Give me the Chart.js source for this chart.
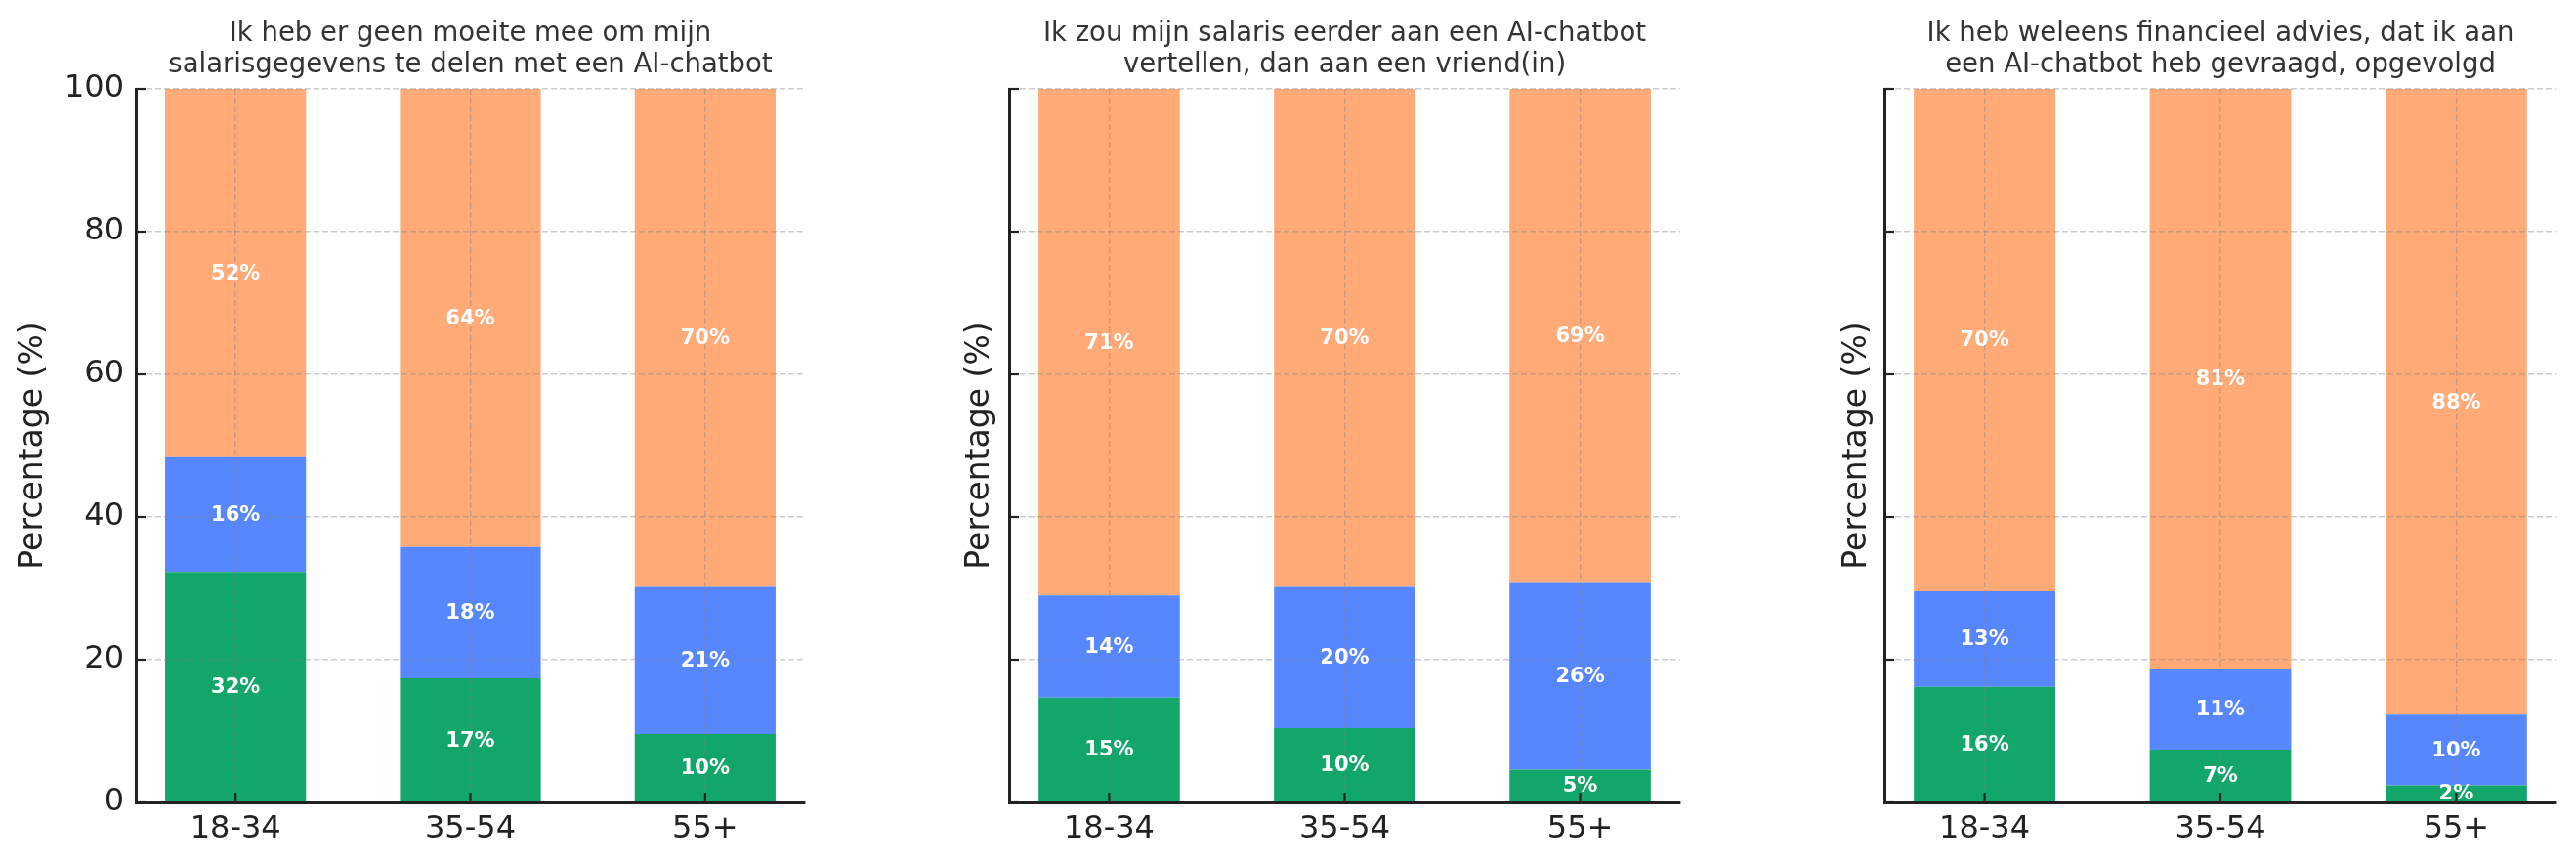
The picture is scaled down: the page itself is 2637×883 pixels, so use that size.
<!DOCTYPE html>
<html>
<head>
<meta charset="utf-8">
<script src="https://cdn.jsdelivr.net/npm/chart.js@4"></script>
<style>
  body { margin: 0; background: #fff; }
  canvas { position: absolute; top: 0; }
</style>
</head>
<body>
<canvas id="chart1" width="830" height="883" style="left:0px"></canvas>
<canvas id="chart2" width="753" height="883" style="left:973px"></canvas>
<canvas id="chart3" width="754" height="883" style="left:1869px"></canvas>
<script>
const ageGroups = ['18-34', '35-54', '55+'];
const yTicks = [0, 20, 40, 60, 80, 100];

const title1 = ['Ik heb er geen moeite mee om mijn', 'salarisgegevens te delen met een AI-chatbot'];
const eens1 = [32.3, 17.4, 9.6];
const neutraal1 = [16.1, 18.4, 20.6];
const oneens1 = [51.6, 64.2, 69.8];

const title2 = ['Ik zou mijn salaris eerder aan een AI-chatbot', 'vertellen, dan aan een vriend(in)'];
const eens2 = [14.7, 10.4, 4.6];
const neutraal2 = [14.3, 19.8, 26.3];
const oneens2 = [71.0, 69.8, 69.1];

const title3 = ['Ik heb weleens financieel advies, dat ik aan', 'een AI-chatbot heb gevraagd, opgevolgd'];
const eens3 = [16.2, 7.4, 2.4];
const neutraal3 = [13.4, 11.3, 9.9];
const oneens3 = [70.4, 81.3, 87.7];

const font = 'DejaVu Sans';
const ink = '#222222';

// bar value labels + inward tick marks, drawn on top of everything
const overlay = {
    id: 'overlay',
    afterDraw(chart) {
        const ctx = chart.ctx;
        const area = chart.chartArea;
        ctx.save();
        ctx.strokeStyle = ink;
        ctx.lineWidth = 2.2;
        chart.scales.x.ticks.forEach((t, i) => {
            const px = chart.scales.x.getPixelForTick(i);
            ctx.beginPath();
            ctx.moveTo(px, area.bottom);
            ctx.lineTo(px, area.bottom - 10);
            ctx.stroke();
        });
        chart.scales.y.ticks.forEach((t, i) => {
            const py = chart.scales.y.getPixelForTick(i);
            ctx.beginPath();
            ctx.moveTo(area.left, py);
            ctx.lineTo(area.left + 10, py);
            ctx.stroke();
        });
        ctx.fillStyle = '#ffffff';
        ctx.font = 'bold 21px "' + font + '"';
        ctx.textAlign = 'center';
        ctx.textBaseline = 'middle';
        chart.data.datasets.forEach((ds, d) => {
            chart.getDatasetMeta(d).data.forEach((bar, i) => {
                const v = ds.data[i].y;
                ctx.fillText(Math.round(v) + '%', bar.x, (bar.y + bar.base) / 2 + 1);
            });
        });
        ctx.restore();
    }
};

function points(values) {
    return values.map((v, i) => ({ x: i, y: v }));
}

function makeChart(id, title, eens, neutraal, oneens, yWidth, showYTicks, yTitlePad) {
    new Chart(document.getElementById(id), {
        type: 'bar',
        data: {
            datasets: [
                { label: 'Eens', data: points(eens), backgroundColor: '#12a66b' },
                { label: 'Neutraal', data: points(neutraal), backgroundColor: '#5787ff' },
                { label: 'Oneens', data: points(oneens), backgroundColor: '#ffaa77' }
            ]
        },
        options: {
            responsive: false,
            animation: false,
            devicePixelRatio: 1,
            barPercentage: 0.6,
            categoryPercentage: 1,
            layout: { padding: { top: 0, right: 6, bottom: 0, left: 0 } },
            scales: {
                x: {
                    type: 'linear',
                    stacked: true,
                    offset: false,
                    min: -0.425,
                    max: 2.425,
                    z: 1,
                    afterFit: s => { s.height = 62; },
                    afterBuildTicks: s => { s.ticks = ageGroups.map((g, i) => ({ value: i })); },
                    ticks: {
                        autoSkip: false,
                        maxRotation: 0,
                        padding: 8,
                        color: ink,
                        font: { family: font, size: 32 },
                        callback: v => ageGroups[v] ?? ''
                    },
                    grid: { offset: false, z: 1, color: 'rgba(128,128,128,0.4)', lineWidth: 1.4, drawTicks: false },
                    border: { display: true, z: 2, color: ink, width: 3, dash: [6, 3] }
                },
                y: {
                    stacked: true,
                    min: yTicks[0],
                    max: yTicks[yTicks.length - 1],
                    z: 1,
                    afterFit: s => { s.width = yWidth; },
                    afterBuildTicks: s => { s.ticks = yTicks.map(v => ({ value: v })); },
                    ticks: {
                        display: showYTicks,
                        padding: 12,
                        color: ink,
                        font: { family: font, size: 32 }
                    },
                    title: {
                        display: true,
                        text: 'Percentage (%)',
                        color: ink,
                        font: { family: font, size: 33 },
                        padding: { top: yTitlePad, bottom: 0 }
                    },
                    grid: { z: 1, color: 'rgba(128,128,128,0.4)', lineWidth: 1.4, drawTicks: false },
                    border: { display: true, z: 2, color: ink, width: 3, dash: [6, 3] }
                }
            },
            plugins: {
                legend: { display: false },
                tooltip: { enabled: false },
                title: {
                    display: true,
                    text: title,
                    fullSize: false,
                    color: '#333333',
                    font: { family: font, size: 27.5, weight: 'normal', lineHeight: 1.164 },
                    padding: { top: 19, bottom: 8 }
                }
            }
        },
        plugins: [overlay]
    });
}

makeChart('chart1', title1, eens1, neutraal1, oneens1, 139, true, 15);
makeChart('chart2', title2, eens2, neutraal2, oneens2, 60, false, 11);
makeChart('chart3', title3, eens3, neutraal3, oneens3, 60, false, 13);
</script>
</body>
</html>
